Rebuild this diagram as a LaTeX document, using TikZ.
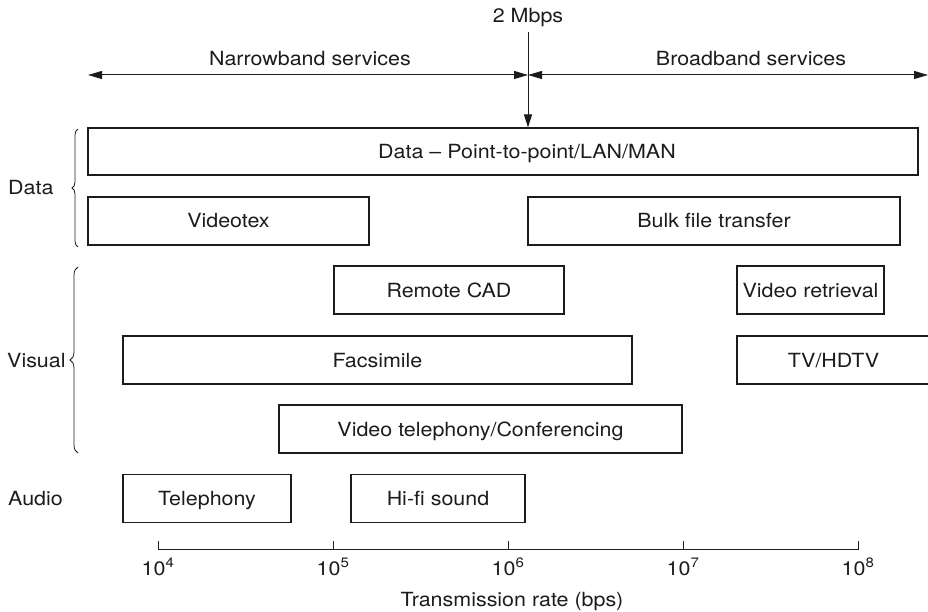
\documentclass[tikz,border=0pt]{standalone}
\usepackage{fontspec}
\setmainfont{TeX Gyre Heros}[FakeStretch=1.1]
\usetikzlibrary{arrows.meta,decorations.pathreplacing}
\definecolor{ink}{HTML}{1c1c1c}
\begin{document}
\begin{tikzpicture}[x=1pt,y=-1pt,
  font=\fontsize{19.5}{23}\selectfont,
  every node/.style={text=ink},
  captxt/.style={inner sep=0pt, text height=14pt, text depth=0pt},
  svcbox/.style={draw=ink, line width=1.1pt, inner sep=0pt, minimum height=48pt,
                 text height=14pt, text depth=0pt},
  spanarrow/.style={draw=ink, line width=1pt, {Triangle[length=14pt,width=8pt]}-{Triangle[length=14pt,width=8pt]}},
  pointer/.style={draw=ink, line width=1pt, -{Triangle[length=13pt,width=8pt]}},
  groupbrace/.style={draw=ink, line width=0.8pt, decorate},
  axisline/.style={draw=ink, line width=1pt}
]
\useasboundingbox (0,0) rectangle (928,612);

% rate threshold and service ranges
\node[inner sep=0pt, inner ysep=5pt, anchor=base] (mbps) at (528,22.7) {2 Mbps};
\coordinate (split) at (528,75);
\coordinate (nbleft) at (88,75);
\coordinate (bbright) at (928,75);
\draw[spanarrow] (nbleft) -- (split);
\draw[spanarrow] (split) -- (bbright);
\node[inner sep=0pt, anchor=base] (nb) at (310,65.7) {Narrowband services};
\node[inner sep=0pt, anchor=base] (bb) at (751,65.7) {Broadband services};

% services
\node[svcbox, minimum width=830pt, minimum height=47pt,
      label={[captxt, xshift=24pt]center:Data -- Point-to-point/LAN/MAN}] (dataall) at (503,151.5) {};
\node[svcbox, minimum width=281pt] (videotex) at (228.5,221) {Videotex};
\node[svcbox, minimum width=372pt] (bulk) at (714,221) {Bulk file transfer};
\node[svcbox, minimum width=230pt] (cad) at (449,290) {Remote CAD};
\node[svcbox, minimum width=147pt] (vret) at (810.5,290) {Video retrieval};
\node[svcbox, minimum width=509pt] (fax) at (377.5,360) {Facsimile};
\node[svcbox, minimum width=193pt] (tv) at (833.5,360) {TV/HDTV};
\node[svcbox, minimum width=403pt] (vtel) at (480.5,429) {Video telephony/Conferencing};
\node[svcbox, minimum width=168pt] (tel) at (207,498.5) {Telephony};
\node[svcbox, minimum width=174pt] (hifi) at (438,498.5) {Hi-fi sound};

\draw[pointer] (mbps.south) -- (mbps.south |- dataall.north);

% service groups
\node[captxt, anchor=west] (gdata) at (8,188) {Data};
\node[captxt, anchor=west] (gvis) at (7,360) {Visual};
\node[captxt, anchor=west] (gaud) at (8,498.5) {Audio};
\draw[groupbrace, decoration={brace, amplitude=6pt}] (78,247) -- (78,129);
\draw[groupbrace, decoration={brace, amplitude=8pt}] (78,453) -- (78,267);

% rate axis
\foreach \e/\x in {4/158,5/333,6/508,7/683,8/858}
  \coordinate (r\e) at (\x,549);
\draw[axisline] (r4) ++(0,-8) -- (r4) -- (r8) -- ++(0,-8);
\foreach \e in {5,6,7}
  \draw[axisline] (r\e) -- ++(0,-8);
\foreach \e/\x in {4/158,5/333,6/508,7/683,8/858}
  \node[inner sep=0pt, anchor=base] (l\e) at (\x,575) {10\textsuperscript{\e}};
\node[inner sep=0pt, anchor=base] (xcap) at (512,606.5) {Transmission rate (bps)};
\end{tikzpicture}
\end{document}
